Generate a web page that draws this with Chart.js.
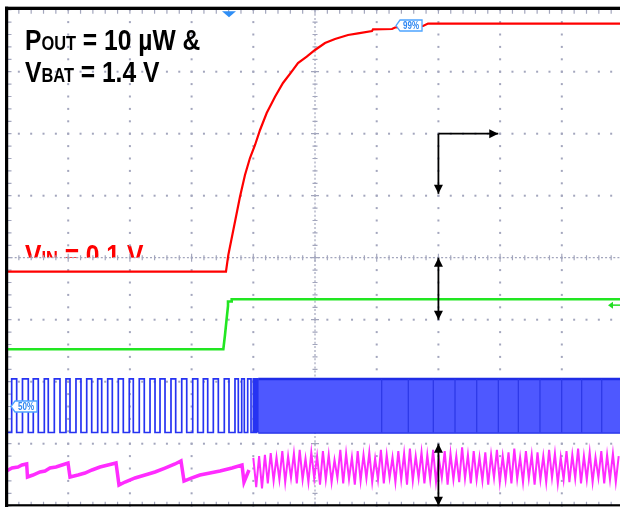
<!DOCTYPE html>
<html lang="en">
<head>
  <meta charset="UTF-8">
  <title>Start-up waveform</title>
  <script src="https://cdn.jsdelivr.net/npm/chart.js"></script>
  <style>
    body {
      margin: 0;
      background-color: #fff;
    }

    canvas {
      display: block;
    }
  </style>
</head>
<body>

  <canvas id="scope" width="620" height="507"></canvas>

  <script>
    // Everything is in screen divisions: 10 across, 8 down, y = 0 on the centre line

    // red trace (output rising to 99 %)
    var redX = [0, 3.557, 3.595, 3.703, 3.784, 3.865, 3.946, 4.028, 4.109, 4.217, 4.352, 4.481, 4.622, 4.724,
                4.866, 5.0, 5.162, 5.324, 5.535, 5.697, 5.924, 5.940, 6.248, 6.297, 6.751, 6.832, 9.95];
    var redY = [-0.226, -0.226, 0.044, 0.581, 0.984, 1.334, 1.608, 1.818, 2.060, 2.334, 2.597, 2.818, 3.0, 3.140,
                3.242, 3.350, 3.463, 3.527, 3.592, 3.619, 3.656, 3.684, 3.689, 3.713, 3.737, 3.777, 3.777];

    // green trace (step)
    var greenX = [0, 3.514, 3.541, 3.569, 3.590, 3.590, 3.650, 3.650, 9.95];
    var greenY = [-1.477, -1.477, -1.247, -0.973, -0.779, -0.706, -0.706, -0.671, -0.671];

    // blue trace: logic levels, edge times (trace starts low), then the dense switching band
    var blueHigh = -1.956;
    var blueLow = -2.819;
    var blueEdges = [0.084, 0.165, 0.259, 0.353, 0.434, 0.515, 0.613, 0.677, 0.775, 0.867,
                     0.964, 1.029, 1.126, 1.207, 1.300, 1.381, 1.478, 1.543, 1.640, 1.715,
                     1.812, 1.893, 1.990, 2.055, 2.152, 2.233, 2.326, 2.407, 2.488, 2.569,
                     2.666, 2.742, 2.840, 2.921, 3.018, 3.099, 3.190, 3.261, 3.352, 3.433,
                     3.530, 3.606, 3.703, 3.757, 3.812, 3.854, 3.909, 3.963, 4.000, 4.027,
                     4.052, 4.076];
    var blueBand = [4.08, 9.95];
    var blueStripes = [6.081, 6.512, 6.917, 7.269, 7.621, 7.971, 8.295, 8.646, 8.998, 9.322, 9.647];

    // magenta trace: slow sawtooth, then fast ripple sampled every magStep
    var magX = [0, 0.089, 0.186, 0.251, 0.327, 0.340, 0.429, 0.543, 0.624, 0.705,
                0.802, 0.900, 0.997, 1.029, 1.159, 1.272, 1.386, 1.515, 1.645, 1.775,
                1.823, 1.921, 2.083, 2.245, 2.407, 2.569, 2.731, 2.828, 2.877, 3.006,
                3.136, 3.298, 3.460, 3.655, 3.817, 3.849, 3.930];
    var magY = [-3.440, -3.392, -3.376, -3.344, -3.327, -3.537, -3.505, -3.456, -3.440, -3.392,
                -3.376, -3.344, -3.311, -3.537, -3.505, -3.473, -3.424, -3.376, -3.344, -3.311,
                -3.666, -3.618, -3.553, -3.505, -3.456, -3.392, -3.327, -3.279, -3.602, -3.553,
                -3.505, -3.473, -3.440, -3.392, -3.344, -3.618, -3.424];
    var magStart = 4.0;
    var magStep = 0.047;
    var magRipple = [-3.23, -3.70, -3.20, -3.72, -3.18, -3.64, -3.15, -3.60, -3.22, -3.58,
                     -3.12, -3.62, -3.20, -3.55, -3.16, -3.64, -3.10, -3.58, -3.24, -3.62,
                     -3.14, -3.56, -3.20, -3.66, -3.12, -3.58, -3.18, -3.62, -3.26, -3.55,
                     -3.10, -3.64, -3.16, -3.57, -3.22, -3.66, -3.12, -3.60, -3.18, -3.56,
                     -3.14, -3.62, -3.24, -3.58, -3.10, -3.64, -3.18, -3.55, -3.22, -3.62,
                     -3.12, -3.58, -3.16, -3.66, -3.08, -3.60, -3.20, -3.56, -3.14, -3.64,
                     -3.18, -3.58, -3.10, -3.62, -3.24, -3.55, -3.12, -3.66, -3.16, -3.58,
                     -3.20, -3.62, -3.06, -3.56, -3.18, -3.64, -3.12, -3.58, -3.22, -3.60,
                     -3.14, -3.66, -3.18, -3.55, -3.10, -3.62, -3.20, -3.58, -3.14, -3.64,
                     -3.08, -3.57, -3.22, -3.62, -3.12, -3.56, -3.18, -3.66, -3.14, -3.58,
                     -3.20, -3.62, -3.10, -3.55, -3.16, -3.64, -3.22, -3.58, -3.12, -3.62,
                     -3.18, -3.56, -3.08, -3.64, -3.20, -3.58, -3.14, -3.62, -3.22, -3.55,
                     -3.12, -3.64, -3.18, -3.58, -3.16, -3.62, -3.20];

    // markers on the screen
    var triggerX = 3.606;
    var flag99 = [6.313, 3.745];
    var flag50 = [0.073, -2.40];
    var ch2Marker = -0.765;

    var gridColor = '#a3a6bd';
    var font = '"Liberation Sans", Arial, sans-serif';

    function pts(xs, ys) {
      return xs.map(function (x, i) { return { x: x, y: ys[i] }; });
    }

    // square wave from the edge list
    var blueWave = [{ x: 0, y: blueLow }];
    var level = blueLow;
    blueEdges.forEach(function (e) {
      blueWave.push({ x: e, y: level });
      level = level === blueLow ? blueHigh : blueLow;
      blueWave.push({ x: e, y: level });
    });

    var stripeData = [];
    blueStripes.forEach(function (s) {
      stripeData.push({ x: s, y: blueHigh }, { x: s, y: blueLow }, { x: s, y: null });
    });

    var rippleData = magRipple.map(function (v, i) { return { x: magStart + i * magStep, y: v }; });

    function subText(ctx, x, y, main, sub, rest, color) {
      ctx.save();
      ctx.translate(x, y);
      ctx.scale(0.82, 1);
      ctx.fillStyle = color;
      ctx.textBaseline = 'alphabetic';
      ctx.font = 'bold 30px ' + font;
      ctx.fillText(main, 0, 0);
      var w = ctx.measureText(main).width;
      ctx.font = 'bold 20px ' + font;
      ctx.fillText(sub, w, 0);
      w += ctx.measureText(sub).width;
      ctx.font = 'bold 30px ' + font;
      ctx.fillText(rest, w, 0);
      ctx.restore();
    }

    function arrowHead(ctx, x1, y1, x2, y2) {
      var ang = Math.atan2(y2 - y1, x2 - x1), len = 9, half = 4.5;
      ctx.beginPath();
      ctx.moveTo(x2, y2);
      ctx.lineTo(x2 - len * Math.cos(ang) + half * Math.sin(ang), y2 - len * Math.sin(ang) - half * Math.cos(ang));
      ctx.lineTo(x2 - len * Math.cos(ang) - half * Math.sin(ang), y2 - len * Math.sin(ang) + half * Math.cos(ang));
      ctx.closePath();
      ctx.fill();
    }

    function arrow(ctx, x1, y1, x2, y2, both) {
      ctx.beginPath();
      ctx.moveTo(x1, y1);
      ctx.lineTo(x2, y2);
      ctx.stroke();
      arrowHead(ctx, x1, y1, x2, y2);
      if (both) arrowHead(ctx, x2, y2, x1, y1);
    }

    function flag(ctx, tipX, tipY, text) {
      var w = 22, h = 11, n = 4;
      ctx.beginPath();
      ctx.moveTo(tipX, tipY);
      ctx.lineTo(tipX + n, tipY - h / 2);
      ctx.lineTo(tipX + n + w, tipY - h / 2);
      ctx.lineTo(tipX + n + w, tipY + h / 2);
      ctx.lineTo(tipX + n, tipY + h / 2);
      ctx.closePath();
      ctx.fillStyle = '#fff';
      ctx.fill();
      ctx.strokeStyle = '#4ea4ff';
      ctx.lineWidth = 1.3;
      ctx.stroke();
      ctx.save();
      ctx.translate(tipX + n + w / 2, tipY + 0.5);
      ctx.scale(0.8, 1);
      ctx.fillStyle = '#2f86f0';
      ctx.font = 'bold 10px ' + font;
      ctx.textAlign = 'center';
      ctx.textBaseline = 'middle';
      ctx.fillText(text, 0, 0);
      ctx.restore();
    }

    var scopeDecor = {
      id: 'scopeDecor',
      beforeDatasetsDraw: function (chart) {
        var ctx = chart.ctx, a = chart.chartArea, sx = chart.scales.x, sy = chart.scales.y;
        var cx = sx.getPixelForValue(5), cy = sy.getPixelForValue(0);
        var i, j, px, py;

        // red VIN caption, bottom half hidden below the centre line
        ctx.save();
        ctx.beginPath();
        ctx.rect(a.left, a.top, a.right - a.left, cy - a.top);
        ctx.clip();
        subText(ctx, sx.getPixelForValue(0.3), sy.getPixelForValue(-0.118), 'V', 'IN', ' = 0.1 V', '#ff0000');
        ctx.restore();

        ctx.save();
        ctx.fillStyle = gridColor;
        // dotted major lines
        for (i = 1; i < 10; i++) {
          if (i === 5) continue;
          px = sx.getPixelForValue(i);
          for (j = -20; j <= 20; j++) ctx.fillRect(px - 1, sy.getPixelForValue(j / 5) - 1, 2, 2);
        }
        for (i = -3; i <= 3; i++) {
          if (i === 0) continue;
          py = sy.getPixelForValue(i);
          for (j = 0; j <= 50; j++) ctx.fillRect(sx.getPixelForValue(j / 5) - 1, py - 1, 2, 2);
        }
        // centre lines with ticks
        ctx.strokeStyle = gridColor;
        ctx.lineWidth = 1.2;
        ctx.setLineDash([2, 2.1]);
        ctx.beginPath();
        ctx.moveTo(a.left, cy);
        ctx.lineTo(a.right, cy);
        ctx.moveTo(cx, a.top);
        ctx.lineTo(cx, a.bottom);
        ctx.stroke();
        ctx.setLineDash([]);
        ctx.beginPath();
        for (j = 0; j <= 50; j++) {
          px = sx.getPixelForValue(j / 5);
          var t = j % 5 === 0 ? 4 : 2.5;
          ctx.moveTo(px, cy - t);
          ctx.lineTo(px, cy + t);
          // edge ticks top and bottom
          ctx.moveTo(px, a.top);
          ctx.lineTo(px, a.top + 4);
          ctx.moveTo(px, a.bottom - 4);
          ctx.lineTo(px, a.bottom);
        }
        for (j = -20; j <= 20; j++) {
          py = sy.getPixelForValue(j / 5);
          var u = j % 5 === 0 ? 4 : 2.5;
          ctx.moveTo(cx - u, py);
          ctx.lineTo(cx + u, py);
          ctx.moveTo(a.left, py);
          ctx.lineTo(a.left + 5, py);
        }
        ctx.stroke();
        ctx.restore();
      },
      afterDatasetsDraw: function (chart) {
        var ctx = chart.ctx, a = chart.chartArea, sx = chart.scales.x, sy = chart.scales.y;
        ctx.save();

        // screen frame
        ctx.fillStyle = '#000';
        ctx.fillRect(a.left - 1.5, a.top - 3, a.right - a.left + 2, 3.3);
        ctx.fillRect(a.left - 1.5, a.top - 3, 3.2, chart.height);
        ctx.fillRect(a.left - 1.5, a.bottom - 1.5, a.right - a.left + 2, 2.2);

        // scale arrows
        ctx.strokeStyle = '#000';
        ctx.lineWidth = 1.8;
        var ax = sx.getPixelForValue(7);
        arrow(ctx, ax, sy.getPixelForValue(2), sx.getPixelForValue(7.97), sy.getPixelForValue(2));
        arrow(ctx, ax, sy.getPixelForValue(2), ax, sy.getPixelForValue(1.03));
        arrow(ctx, ax, sy.getPixelForValue(0), ax, sy.getPixelForValue(-1), true);
        arrow(ctx, ax, sy.getPixelForValue(-3), ax, sy.getPixelForValue(-4), true);

        // captions
        subText(ctx, sx.getPixelForValue(0.3), sy.getPixelForValue(3.358), 'P', 'OUT', ' = 10 \u00b5W &', '#000');
        subText(ctx, sx.getPixelForValue(0.3), sy.getPixelForValue(2.834), 'V', 'BAT', ' = 1.4 V', '#000');

        // trigger marker
        var tx = sx.getPixelForValue(triggerX);
        ctx.fillStyle = '#2f8ef5';
        ctx.beginPath();
        ctx.moveTo(tx - 7, a.top + 1.5);
        ctx.lineTo(tx + 7, a.top + 1.5);
        ctx.lineTo(tx, a.top + 7.5);
        ctx.closePath();
        ctx.fill();

        // level flags
        flag(ctx, sx.getPixelForValue(flag99[0]), sy.getPixelForValue(flag99[1]), '99%');
        flag(ctx, sx.getPixelForValue(flag50[0]), sy.getPixelForValue(flag50[1]), '50%');

        // channel marker at the right edge
        var gy = sy.getPixelForValue(ch2Marker);
        ctx.strokeStyle = '#22dd22';
        ctx.fillStyle = '#22dd22';
        ctx.lineWidth = 1.5;
        ctx.beginPath();
        ctx.moveTo(a.right, gy);
        ctx.lineTo(a.right - 10, gy);
        ctx.stroke();
        ctx.beginPath();
        ctx.moveTo(a.right - 12, gy);
        ctx.lineTo(a.right - 7, gy - 3.5);
        ctx.lineTo(a.right - 7, gy + 3.5);
        ctx.closePath();
        ctx.fill();

        ctx.restore();
      }
    };

    new Chart(document.getElementById('scope'), {
      type: 'line',
      data: {
        datasets: [
          { data: pts(redX, redY), borderColor: '#ff0000', borderWidth: 2.2 },
          { data: pts(greenX, greenY), borderColor: '#22e622', borderWidth: 2.6 },
          { data: blueWave, borderColor: '#2633f2', borderWidth: 1.7 },
          { data: stripeData, borderColor: '#2b37e6', borderWidth: 1.2, spanGaps: false },
          { data: pts(blueBand, [blueHigh, blueHigh]), borderColor: '#1f2ce6', borderWidth: 2.5,
            fill: '+1', backgroundColor: '#4e58ff' },
          { data: pts(blueBand, [blueLow, blueLow]), borderColor: '#1f2ce6', borderWidth: 2.5 },
          { data: pts(magX, magY), borderColor: '#ff2cff', borderWidth: 3.5 },
          { data: rippleData, borderColor: '#ff2cff', borderWidth: 2 }
        ]
      },
      options: {
        responsive: false,
        animation: false,
        layout: { padding: { left: 6.5, top: 9.7, right: 0, bottom: 1.3 } },
        scales: {
          x: { type: 'linear', min: 0, max: 9.943, display: false },
          y: { min: -4, max: 4, display: false }
        },
        elements: {
          point: { radius: 0 },
          line: { tension: 0, fill: false }
        },
        plugins: {
          legend: { display: false },
          tooltip: { enabled: false }
        }
      },
      plugins: [scopeDecor]
    });
  </script>

</body>
</html>
